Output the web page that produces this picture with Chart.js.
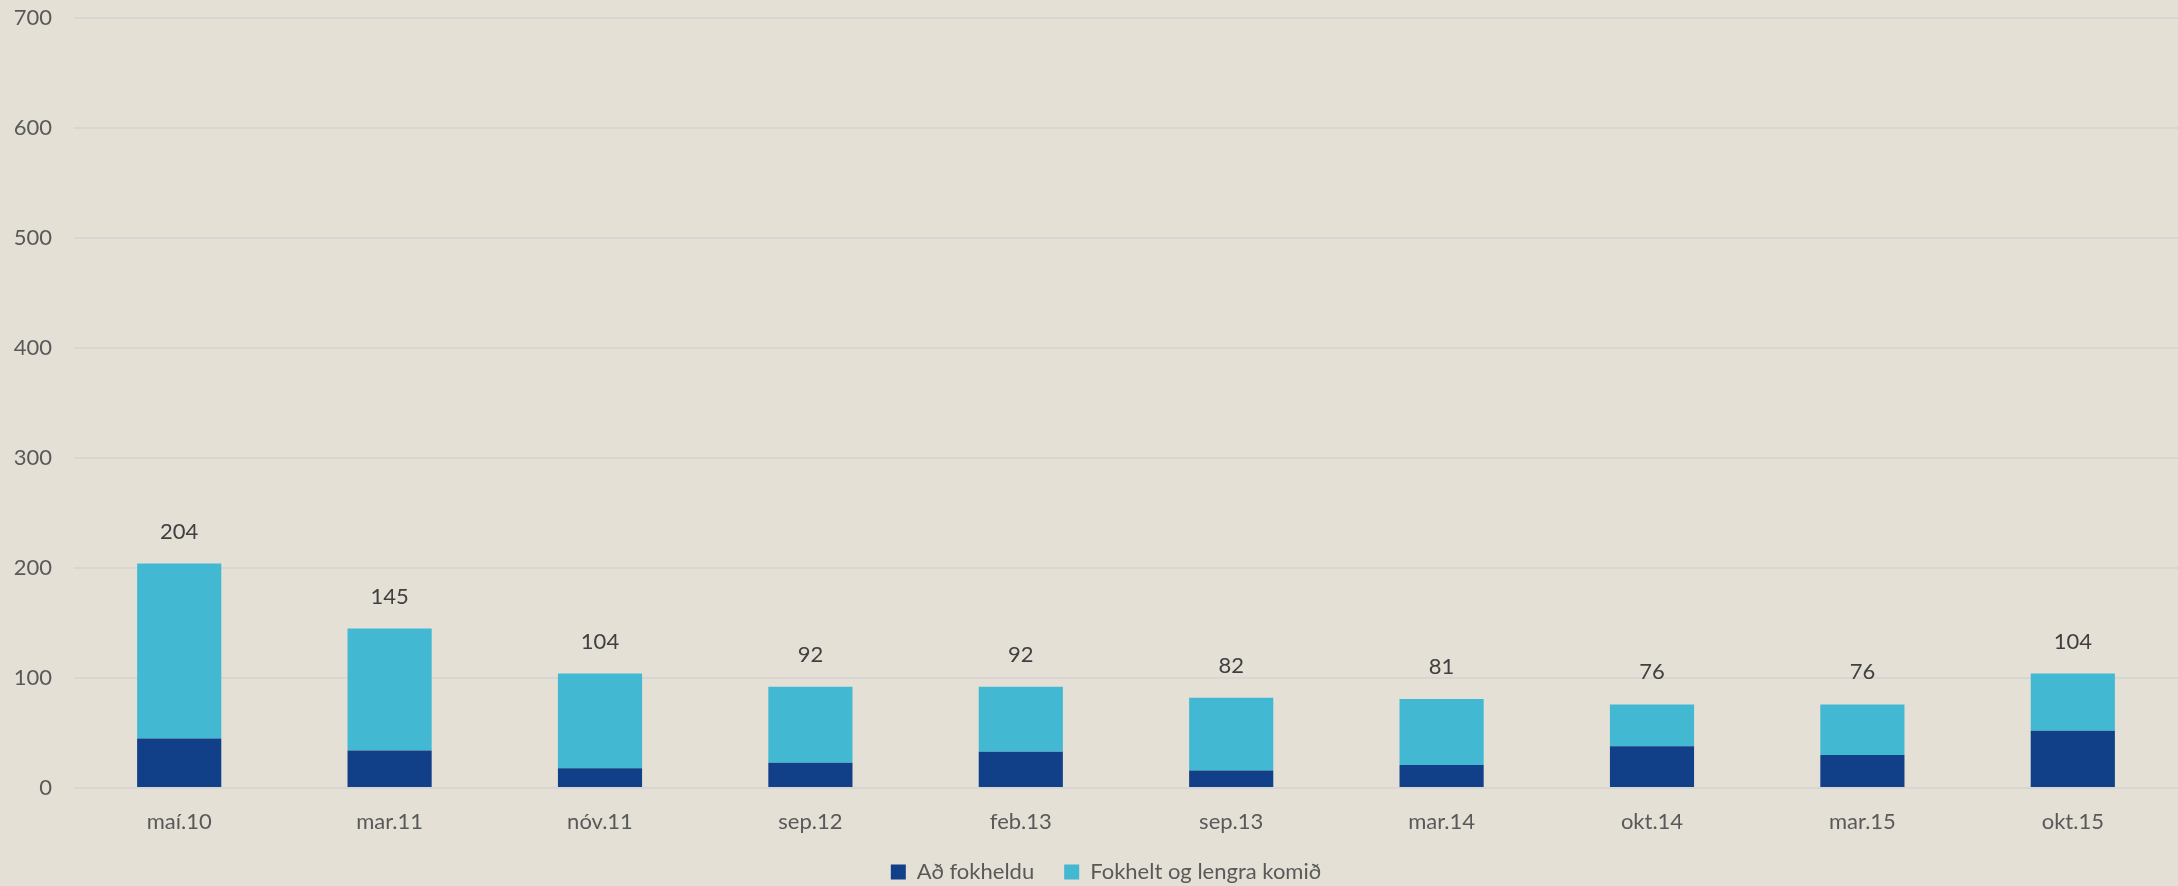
<!DOCTYPE html>
<html>
<head>
<meta charset="utf-8">
<script src="https://cdn.jsdelivr.net/npm/chart.js@4"></script>
<style>
  html, body { margin: 0; padding: 0; background: #e4e0d6; }
  #wrap { width: 2178px; height: 886px; }
</style>
</head>
<body>
<div id="wrap"><canvas id="myChart" width="2178" height="886"></canvas></div>
<script>
const labels = ['maí.10', 'mar.11', 'nóv.11', 'sep.12', 'feb.13', 'sep.13', 'mar.14', 'okt.14', 'mar.15', 'okt.15'];
const adFokheldu = [45, 34, 18, 23, 33, 16, 21, 38, 30, 52];
const fokheltLengra = [159, 111, 86, 69, 59, 66, 60, 38, 46, 52];
const yTicks = [0, 100, 200, 300, 400, 500, 600, 700];

const FONT = 'Lato, "Open Sans", sans-serif';

// samtala ofan á hverja súlu
const totalsPlugin = {
    id: 'totals',
    afterDatasetsDraw(chart) {
        const { ctx, scales } = chart;
        ctx.save();
        ctx.font = '22px ' + FONT;
        ctx.fillStyle = '#404040';
        ctx.textAlign = 'center';
        ctx.textBaseline = 'middle';
        labels.forEach((l, i) => {
            const total = adFokheldu[i] + fokheltLengra[i];
            const x = scales.x.getPixelForValue(i);
            const y = scales.y.getPixelForValue(total) - 32;
            ctx.fillText(String(total), x, y);
        });
        ctx.restore();
    }
};

// skýringin fær litla hæð en er teiknuð aðeins ofar
const legendHeightPlugin = {
    id: 'legendHeight',
    afterInit(chart) {
        const legend = chart.legend;
        if (!legend) return;
        const origFit = legend.fit.bind(legend);
        legend.fit = function () {
            origFit();
            this.height = 38;
        };
    },
    afterLayout(chart) {
        const legend = chart.legend;
        if (!legend) return;
        legend.top = chart.height - 55;
        legend.bottom = chart.height;
        legend.height = 55;
        legend.left += 34;
        legend.width = legend.right - legend.left;
    }
};

const ctx = document.getElementById('myChart').getContext('2d');
const chart = new Chart(ctx, {
    type: 'bar',
    data: {
        labels: labels,
        datasets: [{
            label: 'Að fokheldu',
            data: adFokheldu,
            backgroundColor: '#113f88',
            borderWidth: 0
        }, {
            label: 'Fokhelt og lengra komið',
            data: fokheltLengra,
            backgroundColor: '#43b8d2',
            borderWidth: 0
        }]
    },
    options: {
        responsive: false,
        animation: false,
        layout: {
            padding: { top: 18, right: 0, left: 0, bottom: 0 }
        },
        datasets: {
            bar: {
                barPercentage: 0.4,
                categoryPercentage: 1
            }
        },
        scales: {
            x: {
                stacked: true,
                grid: { display: false },
                border: { display: false },
                ticks: {
                    color: '#595959',
                    font: { family: FONT, size: 22 },
                    padding: 13
                },
                afterFit(scale) {
                    scale.height = 60;
                    scale.paddingLeft = 0;
                    scale.paddingRight = 0;
                }
            },
            y: {
                stacked: true,
                min: 0,
                max: 700,
                afterBuildTicks(scale) {
                    scale.ticks = yTicks.map(v => ({ value: v }));
                },
                grid: { color: '#d8d6d2', lineWidth: 2, drawTicks: false },
                border: { display: false },
                ticks: {
                    color: '#595959',
                    font: { family: FONT, size: 22 },
                    padding: 22
                },
                afterFit(scale) {
                    scale.width = 74;
                    scale.paddingTop = 0;
                    scale.paddingBottom = 0;
                }
            }
        },
        plugins: {
            legend: {
                position: 'bottom',
                labels: {
                    color: '#595959',
                    font: { family: FONT, size: 22 },
                    boxWidth: 15,
                    boxHeight: 15,
                    padding: 30
                }
            },
            tooltip: { enabled: false }
        }
    },
    plugins: [totalsPlugin, legendHeightPlugin]
});
</script>
</body>
</html>
